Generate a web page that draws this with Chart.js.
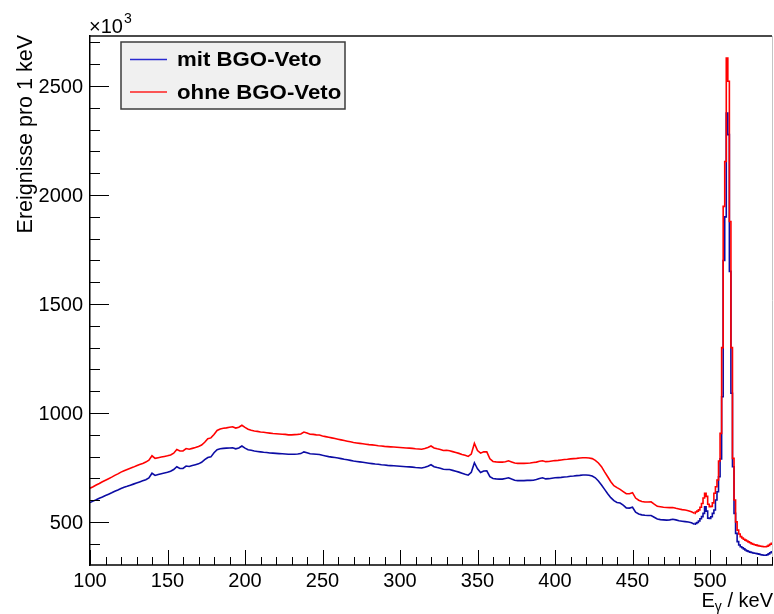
<!DOCTYPE html>
<html>
<head>
<meta charset="utf-8">
<script src="https://cdn.jsdelivr.net/npm/chart.js@4.4.1/dist/chart.umd.min.js"></script>
<style>
  html, body { margin: 0; padding: 0; background: #ffffff; }
  #wrap { width: 774px; height: 614px; }
</style>
</head>
<body>
<div id="wrap"><canvas id="spectrum" width="774" height="614"></canvas></div>
<script>
// Bin centres in keV: 2 keV bins up to 490 keV, 1 keV bins across the annihilation peak
const energies = [
  100,102,104,106,108,110,112,114,116,118,
  120,122,124,126,128,130,132,134,136,138,
  140,142,144,146,148,150,152,154,156,158,
  160,162,164,166,168,170,172,174,176,178,
  180,182,184,186,188,190,192,194,196,198,
  200,202,204,206,208,210,212,214,216,218,
  220,222,224,226,228,230,232,234,236,238,
  240,242,244,246,248,250,252,254,256,258,
  260,262,264,266,268,270,272,274,276,278,
  280,282,284,286,288,290,292,294,296,298,
  300,302,304,306,308,310,312,314,316,318,
  320,322,324,326,328,330,332,334,336,338,
  340,342,344,346,348,350,352,354,356,358,
  360,362,364,366,368,370,372,374,376,378,
  380,382,384,386,388,390,392,394,396,398,
  400,402,404,406,408,410,412,414,416,418,
  420,422,424,426,428,430,432,434,436,438,
  440,442,444,446,448,450,452,454,456,458,
  460,462,464,466,468,470,472,474,476,478,
  480,482,484,486,488,490,
  491,492,493,494,495,496,497,498,499,500,
  501,502,503,504,505,506,507,508,509,510,
  511,512,513,514,515,516,517,518,519,520,
  521,522,523,524,525,526,527,528,529,530,
  531,532,533,534,535,536,537,538,539,540
];

// Counts per keV (in units of 10^3), with BGO veto
const mitVeto = [
  589,596,602,609,615,622,628,634,641,647,
  654,660,664,669,674,679,684,689,694,702,
  724,714,718,722,725,728,733,741,754,746,
  746,757,755,759,763,767,774,786,796,799,
  818,832,836,838,839,840,841,836,840,849,
  839,832,829,826,824,822,820,819,817,816,
  815,814,813,812,811,811,811,812,814,822,
  818,813,812,811,810,806,803,800,798,796,
  794,791,788,786,783,780,778,776,774,772,
  770,768,766,765,763,762,760,759,758,757,
  756,755,754,753,752,750,749,748,751,756,
  763,754,750,747,742,741,741,737,733,729,
  724,719,715,728,772,744,727,734,735,708,
  700,698,697,697,700,703,697,692,690,690,
  690,691,691,692,695,700,703,698,699,701,
  703,704,705,707,708,710,711,713,714,716,
  716,715,711,703,688,670,650,630,612,598,
  590,587,578,565,564,568,545,537,533,531,
  530,530,522,514,511,510,509,510,513,510,
  506,504,502,500,497,490,
  494,498,505,515,525,540,570,550,518,517,
  524,540,555,601,639,708,790,1075,1700,1900,
  2376,2277,1650,1091,754,540,448,410,395,387,
  382,377,372,368,365,362,360,358,357,356,
  354,352,350,349,348,348,350,354,359,364
];

// Counts per keV (in units of 10^3), without BGO veto
const ohneVeto = [
  655,662,670,677,685,692,699,706,714,721,
  729,735,741,747,752,758,764,769,775,784,
  804,792,795,798,801,804,808,816,833,826,
  826,837,834,838,842,847,853,866,882,886,
  902,920,927,930,932,935,937,931,935,944,
  934,926,921,918,916,913,912,910,908,906,
  905,904,903,902,900,900,901,902,904,913,
  908,903,902,900,899,895,892,889,886,883,
  880,877,874,871,868,865,863,861,859,857,
  855,854,852,850,849,847,846,845,844,843,
  842,841,840,839,838,836,835,834,837,842,
  849,840,836,833,828,829,827,823,819,815,
  810,806,801,812,861,828,816,822,822,790,
  778,776,775,775,777,781,776,771,769,769,
  769,770,771,773,775,779,781,777,778,780,
  782,783,785,787,788,790,791,792,794,795,
  795,794,791,783,771,754,730,708,685,667,
  658,650,640,630,630,635,610,600,594,592,
  592,593,582,572,570,568,567,566,567,563,
  560,557,555,552,547,540,
  546,550,556,568,585,610,632,618,582,570,
  572,588,632,662,693,780,907,1300,1948,2154,
  2629,2522,1879,1300,792,601,501,463,445,433,
  427,421,417,413,409,405,401,398,396,394,
  392,390,389,388,387,387,389,393,398,403
];

const seriesNames = ['mit BGO-Veto', 'ohne BGO-Veto'];
const seriesColors = ['#0c0ca4', '#ff0000'];
const xTickLabels = [100, 150, 200, 250, 300, 350, 400, 450, 500];
const yTickLabels = [500, 1000, 1500, 2000, 2500];
// Above this energy the 1 keV bins are drawn as a histogram staircase
const stepFrom = 490;

const FONT = "'Liberation Sans', Arial, Helvetica, sans-serif";

function toPoints(values, lo, hi) {
  const pts = [];
  values.forEach((v, i) => {
    if (energies[i] >= lo && energies[i] <= hi) pts.push({ x: energies[i], y: v });
  });
  return pts;
}

function seriesDatasets(values, idx, order) {
  const base = {
    label: seriesNames[idx],
    borderColor: seriesColors[idx],
    borderWidth: 1.6,
    pointRadius: 0,
    fill: false,
    order: order
  };
  return [
    Object.assign({}, base, { data: toPoints(values, 100, stepFrom), stepped: false }),
    Object.assign({}, base, { data: toPoints(values, stepFrom, 540), stepped: 'middle' })
  ];
}

// Axes, inward tick marks, labels, titles and legend in ROOT style
const rootStyle = {
  id: 'rootStyle',
  afterDraw(chart) {
    const ctx = chart.ctx;
    const a = chart.chartArea;
    const xs = chart.scales.x;
    const ys = chart.scales.y;
    ctx.save();

    // frame: top and right edges
    ctx.strokeStyle = '#4a4a4a';
    ctx.lineWidth = 2;
    ctx.beginPath();
    ctx.moveTo(a.left, a.top - 1);
    ctx.lineTo(a.right, a.top - 1);
    ctx.stroke();
    ctx.strokeStyle = '#c4c4c4';
    ctx.lineWidth = 1;
    ctx.beginPath();
    ctx.moveTo(a.right + 0.5, a.top - 1);
    ctx.lineTo(a.right + 0.5, a.bottom);
    ctx.stroke();

    // axis lines
    ctx.strokeStyle = '#000000';
    ctx.lineWidth = 1.5;
    ctx.beginPath();
    ctx.moveTo(a.left - 0.25, a.top - 2);
    ctx.lineTo(a.left - 0.25, a.bottom + 1);
    ctx.moveTo(a.left - 1, a.bottom);
    ctx.lineTo(a.right + 1, a.bottom);
    ctx.stroke();

    // y ticks (every 100, major every 500)
    ctx.lineWidth = 1;
    ctx.beginPath();
    for (let v = 400; v <= ys.max; v += 100) {
      const py = Math.round(ys.getPixelForValue(v)) + 0.5;
      const len = (v % 500 === 0) ? 19 : 10;
      ctx.moveTo(a.left, py);
      ctx.lineTo(a.left + len, py);
    }
    // x ticks (every 10 keV, major every 50 keV)
    for (let v = 100; v <= xs.max; v += 10) {
      const px = Math.round(xs.getPixelForValue(v)) + 0.5;
      const len = (v % 50 === 0) ? 15 : 8;
      ctx.moveTo(px, a.bottom);
      ctx.lineTo(px, a.bottom - len);
    }
    ctx.stroke();

    // tick labels
    ctx.fillStyle = '#000000';
    ctx.font = '20px ' + FONT;
    ctx.textAlign = 'right';
    ctx.textBaseline = 'middle';
    yTickLabels.forEach(v => {
      ctx.fillText(String(v), a.left - 7, ys.getPixelForValue(v) + 1);
    });
    ctx.textAlign = 'center';
    ctx.textBaseline = 'alphabetic';
    xTickLabels.forEach(v => {
      ctx.fillText(String(v), xs.getPixelForValue(v), 587);
    });

    // exponent label above the y axis
    ctx.textAlign = 'left';
    ctx.font = '20px ' + FONT;
    ctx.fillText('\u00d710', a.left - 1, 33);
    const wExp = ctx.measureText('\u00d710').width;
    ctx.font = '14px ' + FONT;
    ctx.fillText('3', a.left + wExp, 23);

    // y axis title
    ctx.save();
    ctx.translate(32, a.top - 2);
    ctx.rotate(-Math.PI / 2);
    ctx.font = '21.5px ' + FONT;
    ctx.textAlign = 'right';
    ctx.fillText('Ereignisse pro 1 keV', 0, 0);
    ctx.restore();

    // x axis title: E_gamma / keV
    ctx.font = '20px ' + FONT;
    const wE = ctx.measureText('E').width;
    const wRest = ctx.measureText(' / keV').width;
    ctx.font = '14px ' + FONT;
    const wG = ctx.measureText('\u03b3').width;
    let tx = a.right + 1 - (wE + wG + wRest);
    ctx.font = '20px ' + FONT;
    ctx.fillText('E', tx, 607);
    tx += wE;
    ctx.font = '14px ' + FONT;
    ctx.fillText('\u03b3', tx, 611);
    tx += wG;
    ctx.font = '20px ' + FONT;
    ctx.fillText(' / keV', tx, 607);

    // legend box
    ctx.fillStyle = '#f0f0f0';
    ctx.fillRect(121, 42, 224, 67);
    ctx.strokeStyle = '#3c3c3c';
    ctx.lineWidth = 1.5;
    ctx.strokeRect(121, 42, 224, 67);
    const rows = [59.5, 92];
    const bases = [66, 98.5];
    const legendLine = ['#2a2ad0', '#ff2020'];
    seriesNames.forEach((name, i) => {
      ctx.strokeStyle = legendLine[i];
      ctx.lineWidth = 1.3;
      ctx.beginPath();
      ctx.moveTo(130, rows[i]);
      ctx.lineTo(167, rows[i]);
      ctx.stroke();
      ctx.save();
      ctx.translate(177, bases[i]);
      ctx.scale(1.14, 1);
      ctx.fillStyle = '#000000';
      ctx.font = 'bold 19.5px ' + FONT;
      ctx.textAlign = 'left';
      ctx.fillText(name, 0, 0);
      ctx.restore();
    });

    ctx.restore();
  }
};

new Chart(document.getElementById('spectrum'), {
  type: 'line',
  data: {
    datasets: [
      ...seriesDatasets(ohneVeto, 1, 0),
      ...seriesDatasets(mitVeto, 0, 1)
    ]
  },
  options: {
    responsive: false,
    animation: false,
    devicePixelRatio: 1,
    parsing: false,
    normalized: true,
    layout: { padding: { top: 37, right: 2, left: 0, bottom: 0 } },
    plugins: { legend: { display: false }, tooltip: { enabled: false } },
    scales: {
      x: {
        type: 'linear', min: 100, max: 540,
        grid: { display: false }, border: { display: false },
        ticks: { display: false },
        afterFit(s) { s.height = 49; }
      },
      y: {
        type: 'linear', min: 303, max: 2725,
        grid: { display: false }, border: { display: false },
        ticks: { display: false },
        afterFit(s) { s.width = 90; }
      }
    }
  },
  plugins: [rootStyle]
});
</script>
</body>
</html>
